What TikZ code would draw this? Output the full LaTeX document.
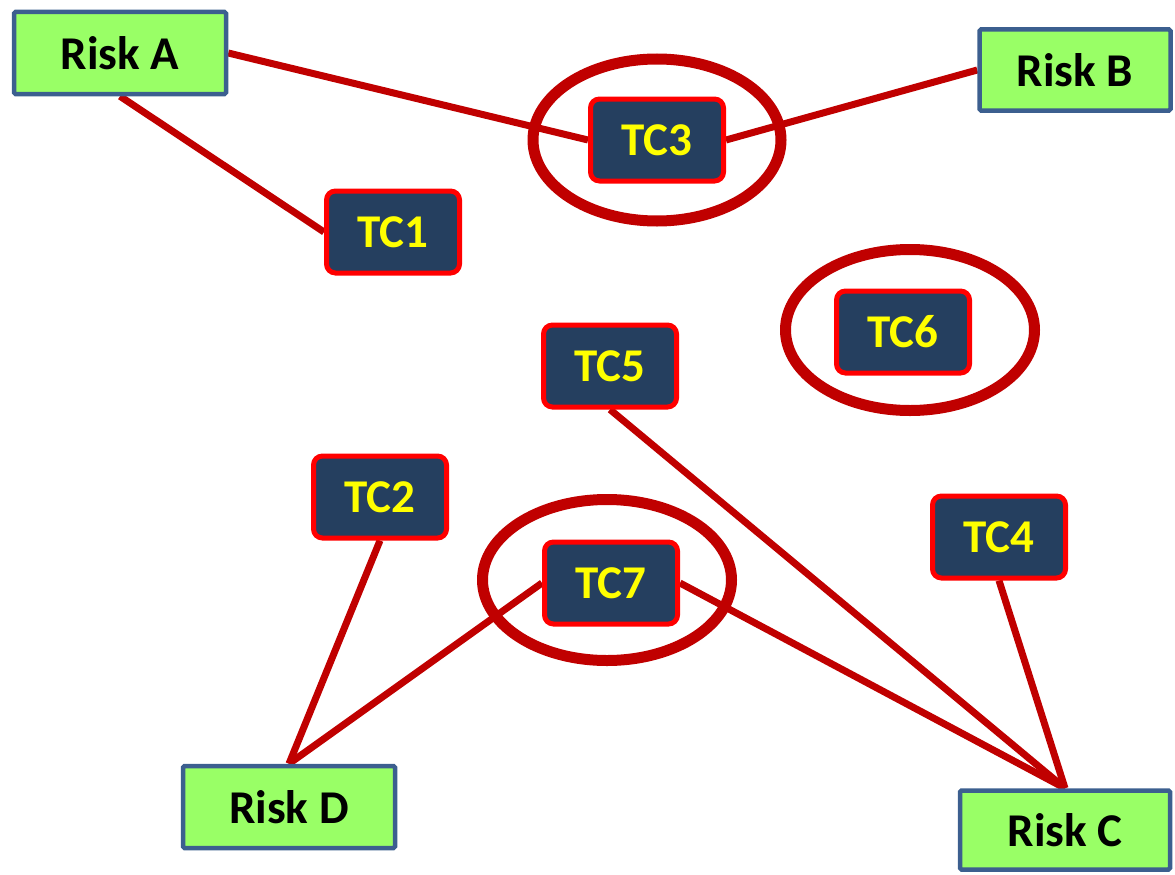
\documentclass[tikz,border=0pt]{standalone}
\usepackage{fontspec}
\setmainfont{Carlito}
\usetikzlibrary{backgrounds}
\definecolor{riskfill}{HTML}{99FF66}
\definecolor{riskborder}{HTML}{3C5F8F}
\definecolor{tcfill}{HTML}{253F5F}
\definecolor{tcborder}{HTML}{FF0000}
\definecolor{tcyellow}{HTML}{FFFF00}
\definecolor{linkred}{HTML}{C00000}
\tikzset{
  riskbox/.style={draw=riskborder, line width=4.5pt, fill=riskfill, rounded corners=1.5pt,
    inner sep=0pt, font=\fontsize{47}{50}\selectfont\bfseries, text=black},
  tcbox/.style={draw=tcborder, line width=5pt, fill=tcfill, rounded corners=9pt,
    minimum width=133pt, minimum height=82pt, inner sep=0pt,
    font=\fontsize{47}{50}\selectfont\bfseries, text=tcyellow},
  link/.style={draw=linkred, line width=7pt},
  ring/.style={draw=linkred, line width=11pt}
}
\begin{document}
\begin{tikzpicture}[x=1pt,y=-1pt]
\useasboundingbox (0,0) rectangle (1175,875);
\node[riskbox, minimum width=212pt, minimum height=82pt] (ra) at (120,53) {Risk A};
\node[riskbox, minimum width=191pt, minimum height=81pt] (rb) at (1075,70) {Risk B};
\node[riskbox, minimum width=212pt, minimum height=82pt] (rd) at (289,807) {Risk D};
\node[riskbox, minimum width=210pt, minimum height=79pt] (rc) at (1065,830) {Risk C};
\node[tcbox] (tc3) at (657,140) {TC3};
\node[tcbox] (tc1) at (393,232) {TC1};
\node[tcbox] (tc6) at (903,332) {TC6};
\node[tcbox] (tc5) at (610,366) {TC5};
\node[tcbox] (tc2) at (380,497) {TC2};
\node[tcbox] (tc7) at (611,583) {TC7};
\node[tcbox] (tc4) at (999,537) {TC4};
\begin{scope}[on background layer]
\draw[link] (ra.east) -- (tc3.west);
\draw[link] (ra.south) -- (tc1.west);
\draw[link] (tc3.east) -- (rb.west);
\draw[link] (tc2.south) -- (rd.north);
\draw[link] (rd.north) -- (tc7.west);
\draw[link] (tc7.east) -- (rc.north);
\draw[link] (tc5.south) -- (rc.north);
\draw[link] (tc4.south) -- (rc.north);
\end{scope}
\draw[ring] (tc3.center) ellipse [x radius=124, y radius=81];
\draw[ring] (910,330) coordinate (e6) ellipse [x radius=124.5, y radius=80.5];
\draw[ring] (607,580) coordinate (e7) ellipse [x radius=124.5, y radius=80.5];
\end{tikzpicture}
\end{document}
